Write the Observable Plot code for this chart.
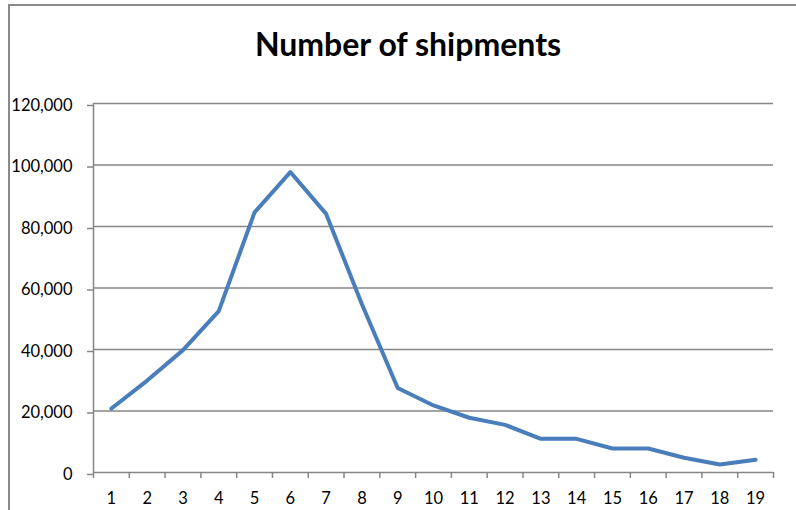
<!DOCTYPE html>
<html>
<head>
<meta charset="utf-8">
<script src="https://cdn.jsdelivr.net/npm/d3@7"></script>
<script src="https://cdn.jsdelivr.net/npm/@observablehq/plot@0.6"></script>
<style>
  html, body { margin: 0; padding: 0; background: #fff; }
  #wrap { position: relative; width: 796px; height: 510px; overflow: hidden; background: #fff; }
  #frame { position: absolute; left: 8px; top: 4px; width: 900px; height: 600px;
           border-left: 2px solid #8a8a8a; border-top: 2px solid #8a8a8a; }
  #title { position: absolute; left: 0; top: 25px; width: 816px; text-align: center;
           font-family: Lato, "Open Sans", sans-serif; font-weight: bold; font-size: 32px;
           line-height: 38px; color: #000; }
  #chart { position: absolute; left: 0; top: 90px; }
</style>
</head>
<body>
<div id="wrap">
  <div id="frame"></div>
  <div id="title">Number of shipments</div>
  <div id="chart"></div>
</div>
<script>
const categories = [1, 2, 3, 4, 5, 6, 7, 8, 9, 10, 11, 12, 13, 14, 15, 16, 17, 18, 19];
const shipments = [20800, 29900, 39800, 52500, 84600, 97700, 84100, 54700, 27500, 21800,
                   17800, 15500, 10950, 10950, 7800, 7800, 4800, 2600, 4150];
const yTicks = [0, 20000, 40000, 60000, 80000, 100000, 120000];

const boundaries = categories.map(c => c - 0.5).concat([categories[categories.length - 1] + 0.5]);
const xDomain = [boundaries[0], boundaries[boundaries.length - 1]];
const data = categories.map((c, i) => ({cat: c, value: shipments[i]}));
const grid = "#868686";
const fs = 16.5;

const chart = Plot.plot({
  width: 796,
  height: 420,
  marginLeft: 93,
  marginRight: 23,
  marginTop: 13,
  marginBottom: 38,
  style: {fontFamily: "Lato, 'Open Sans', sans-serif", fontSize: fs + "px", color: "#000", background: "transparent", overflow: "visible"},
  x: {type: "linear", domain: xDomain},
  y: {domain: [0, 120000]},
  marks: [
    Plot.ruleY(yTicks, {x1: xDomain[0], x2: xDomain[1], stroke: grid, strokeWidth: 1.5}),
    Plot.ruleX([xDomain[0]], {y1: 0, y2: 120000, stroke: grid, strokeWidth: 1.5}),
    Plot.axisY({ticks: yTicks, tickSize: 6, tickPadding: 15, tickFormat: d3.format(","),
                stroke: grid, strokeWidth: 1.5, fill: "#000", fontSize: fs, dy: 2, label: null}),
    Plot.axisX({ticks: boundaries, tickSize: 6, tickFormat: () => "", stroke: grid, strokeWidth: 1.5, label: null}),
    Plot.axisX({ticks: categories, tickSize: 0, tickPadding: 20, fill: "#000", fontSize: fs, label: null}),
    Plot.line(data, {x: "cat", y: "value", stroke: "#4A7EBB", strokeWidth: 4,
                     strokeLinejoin: "round", strokeLinecap: "round"})
  ]
});
document.getElementById("chart").appendChild(chart);
</script>
</body>
</html>
